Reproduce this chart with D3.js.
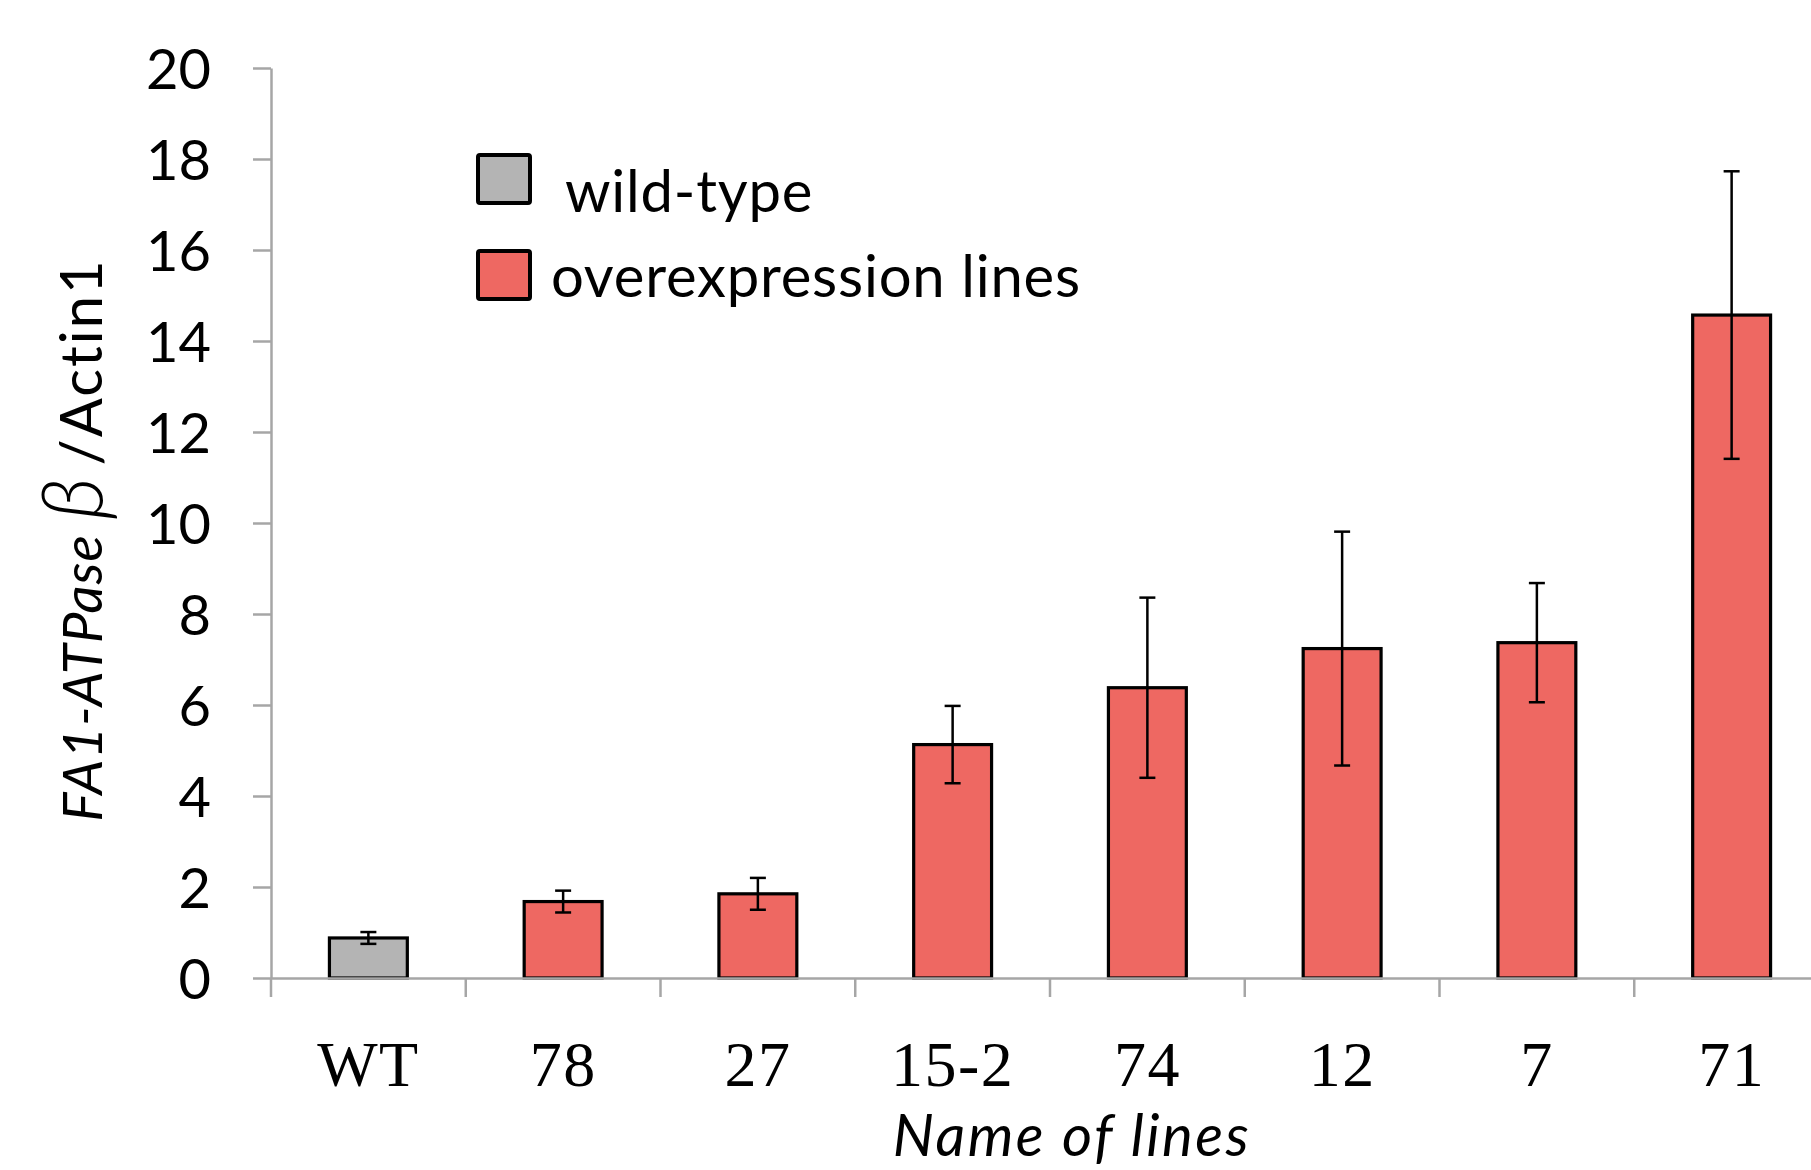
<!DOCTYPE html>
<html><head><meta charset="utf-8">
<script src="https://cdn.jsdelivr.net/npm/d3@7"></script>
<style>html,body{margin:0;padding:0;background:#fff;overflow:hidden}</style>
</head><body>
<svg id="c" width="1811" height="1170"></svg>
<script>
const categories = ["WT","78","27","15-2","74","12","7","71"];
const values = [0.88, 1.68, 1.85, 5.13, 6.38, 7.24, 7.37, 14.57];
const errors = [0.13, 0.24, 0.35, 0.85, 1.98, 2.57, 1.31, 3.16];
const groups = ["wt","oe","oe","oe","oe","oe","oe","oe"];
const legendLabels = ["wild-type", "overexpression lines"];
const yTicks = [0,2,4,6,8,10,12,14,16,18,20];

const colors = {wt:"#b4b4b4", oe:"#ee6862"};
const svg = d3.select("#c");
const x = d3.scaleBand().domain(categories).range([271, 1829]).padding(0);
const y = d3.scaleLinear().domain([0,20]).range([978, 68]);
const axisColor = "#a6a6a6";
const sans = "Lato, 'Open Sans', sans-serif";

// y axis
const ya = svg.append("g").attr("transform","translate(271,0)")
  .call(d3.axisLeft(y).tickValues(yTicks).tickSize(18).tickPadding(42).tickSizeOuter(0));
ya.select(".domain").attr("stroke",axisColor).attr("stroke-width",2.5);
ya.selectAll(".tick line").attr("stroke",axisColor).attr("stroke-width",2.5);
ya.selectAll(".tick text").attr("font-family",sans).attr("font-size",56).attr("fill","#000").attr("dy","0.36em");

// bars
const bw = x.bandwidth()*0.4;
const data = categories.map((c,i)=>({c, v:values[i], e:errors[i], g:groups[i]}));
svg.append("g").selectAll("rect").data(data).join("rect")
  .attr("x",d=>x(d.c)+x.bandwidth()/2-bw/2).attr("width",bw)
  .attr("y",d=>y(d.v)).attr("height",d=>y(0)-y(d.v))
  .attr("fill",d=>colors[d.g]).attr("stroke","#000").attr("stroke-width",3.2);

// x axis
const xa = svg.append("g").attr("transform","translate(0,978)")
  .call(d3.axisBottom(x).tickSize(0).tickPadding(0).tickSizeOuter(0));
xa.select(".domain").attr("stroke",axisColor).attr("stroke-width",2.5);
xa.selectAll(".tick text").attr("font-family","'Liberation Serif', 'DejaVu Serif', serif").attr("font-size",64)
  .attr("fill","#000").attr("dy",0).attr("y",108).attr("letter-spacing",1.5);
// boundary ticks
svg.append("g").selectAll("line").data(categories).join("line")
  .attr("x1",d=>x(d)).attr("x2",d=>x(d)).attr("y1",978).attr("y2",997)
  .attr("stroke",axisColor).attr("stroke-width",2.5);

// error bars
const eb = svg.append("g").attr("stroke","#000").attr("stroke-width",2.5);
data.forEach(d=>{
  const cx = x(d.c)+x.bandwidth()/2;
  eb.append("line").attr("x1",cx).attr("x2",cx).attr("y1",y(d.v+d.e)).attr("y2",y(d.v-d.e));
  eb.append("line").attr("x1",cx-8).attr("x2",cx+8).attr("y1",y(d.v+d.e)).attr("y2",y(d.v+d.e));
  eb.append("line").attr("x1",cx-8).attr("x2",cx+8).attr("y1",y(d.v-d.e)).attr("y2",y(d.v-d.e));
});

// legend
const lg = svg.append("g");
[["wt",0],["oe",1]].forEach(([g,i])=>{
  lg.append("rect").attr("x",478).attr("y",155+i*96).attr("width",52).attr("height",48)
    .attr("fill",colors[g]).attr("stroke","#000").attr("stroke-width",4).attr("rx",2);
  lg.append("text").attr("x", i===0?565:551).attr("y",212+i*85).attr("font-family",sans)
    .attr("font-size",58).attr("letter-spacing",0.8).attr("fill","#000").text(legendLabels[i]);
});

// x title
svg.append("text").attr("x",1072).attr("y",1156).attr("text-anchor","middle")
  .attr("font-family",sans).attr("font-style","italic").attr("font-size",58)
  .attr("letter-spacing",2.5).text("Name of lines");

// y title
const yt = svg.append("text").attr("transform","translate(102,540) rotate(-90)").attr("text-anchor","middle")
  .attr("font-family",sans).attr("font-size",55).attr("fill","#000");
yt.append("tspan").attr("font-style","italic").attr("letter-spacing",1).text("FA1-ATPase");
yt.append("tspan").attr("font-weight",300).attr("font-style","italic").attr("font-size",84).attr("dx",14).text("β");
yt.append("tspan").attr("font-size",58).attr("letter-spacing",2).attr("dx",12).text("/Actin1");
</script>
</body></html>
